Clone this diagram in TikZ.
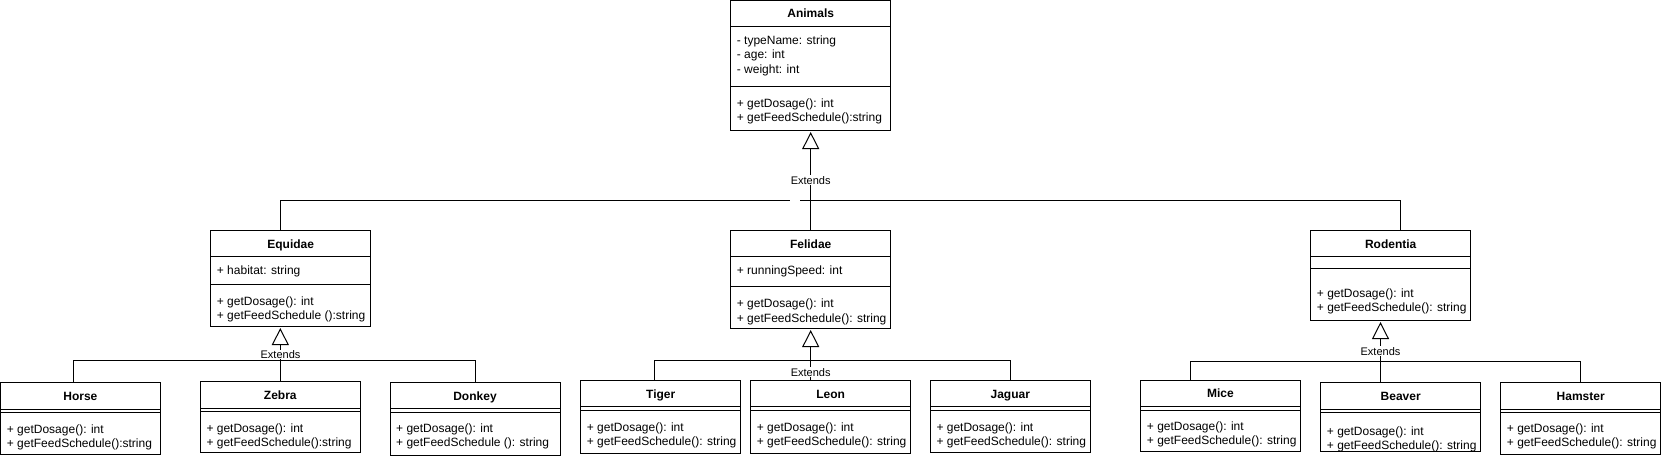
\documentclass[tikz,border=0pt]{standalone}
\usepackage{fontspec}
\setmainfont{Liberation Sans}
\usetikzlibrary{arrows.meta}
\tikzset{
  clsbox/.style={draw, line width=1pt, inner sep=0pt, outer sep=0pt, anchor=north west, fill=white},
  ttl/.style={anchor=base, inner sep=0pt, font=\fontsize{12pt}{14pt}\selectfont\bfseries},
  txt/.style={anchor=base west, inner sep=0pt, font=\fontsize{12pt}{14pt}\selectfont},
  ext/.style={anchor=base, fill=white, inner sep=0.6pt, font=\fontsize{11pt}{13pt}\selectfont},
  conn/.style={line width=1pt},
  inh/.style={line width=1pt, -{Triangle[open,length=17pt,width=17pt]}, shorten >=2pt},
  sepline/.style={line width=1pt}
}
\newcommand\umlcls[6]{%
  \node[clsbox, minimum width=#4pt, minimum height=#5pt] (#1) at (#2,#3) {};
  \node[ttl] (#1-title) at ([yshift=-17.3pt]#1.north) {#6};
}
\newcommand\umlsep[2]{\draw[sepline] ([yshift=-#2pt]#1.north west) -- ([yshift=-#2pt]#1.north east);}
\newcommand\umltxt[4]{\node[txt] (#1-#3) at ([xshift=6pt,yshift=-#2pt]#1.north west) {#4};}
\begin{document}
\begin{tikzpicture}[x=1pt,y=-1pt]
\useasboundingbox (0,0) rectangle (1661,458);

% ---------- Animals ----------
\umlcls{animals}{730.7}{0.5}{160}{129.5}{Animals}
\umlsep{animals}{25.5}\umlsep{animals}{85.5}
\umltxt{animals}{43.8}{a}{- typeName: string}
\umltxt{animals}{58.2}{b}{- age: int}
\umltxt{animals}{72.6}{c}{- weight: int}
\umltxt{animals}{107}{d}{+ getDosage(): int}
\umltxt{animals}{121.2}{e}{+ getFeedSchedule():string}

% ---------- Equidae ----------
\umlcls{equidae}{210.7}{230.7}{160}{95.3}{Equidae}
\umlsep{equidae}{25.3}\umlsep{equidae}{53.6}
\umltxt{equidae}{43.3}{a}{+ habitat: string}
\umltxt{equidae}{74.3}{b}{+ getDosage(): int}
\umltxt{equidae}{88.7}{c}{+ getFeedSchedule ():string}

% ---------- Felidae ----------
\umlcls{felidae}{730.7}{230.7}{160}{97.3}{Felidae}
\umlsep{felidae}{25.3}\umlsep{felidae}{56}
\umltxt{felidae}{43.3}{a}{+ runningSpeed: int}
\umltxt{felidae}{77}{b}{+ getDosage(): int}
\umltxt{felidae}{91.3}{c}{+ getFeedSchedule(): string}

% ---------- Rodentia ----------
\umlcls{rodentia}{1310.7}{230.7}{160}{89.3}{Rodentia}
\umlsep{rodentia}{25.3}\umlsep{rodentia}{37.6}
\umltxt{rodentia}{67.1}{a}{+ getDosage(): int}
\umltxt{rodentia}{80.8}{b}{+ getFeedSchedule(): string}

% ---------- Bottom row ----------
\umlcls{horse}{0.7}{382.7}{159.3}{71.3}{Horse}
\umlsep{horse}{26.6}\umlsep{horse}{30}
\umltxt{horse}{50.6}{a}{+ getDosage(): int}
\umltxt{horse}{64.6}{b}{+ getFeedSchedule():string}

\umlcls{zebra}{200.3}{381.7}{160}{71}{Zebra}
\umlsep{zebra}{26.6}\umlsep{zebra}{30}
\umltxt{zebra}{50.6}{a}{+ getDosage(): int}
\umltxt{zebra}{64.6}{b}{+ getFeedSchedule():string}

\umlcls{donkey}{390}{382.7}{170}{72.3}{Donkey}
\umlsep{donkey}{25.6}\umlsep{donkey}{29.6}
\umltxt{donkey}{50}{a}{+ getDosage(): int}
\umltxt{donkey}{63.8}{b}{+ getFeedSchedule (): string}

\umlcls{tiger}{580.7}{380.7}{160}{72.6}{Tiger}
\umlsep{tiger}{26}\umlsep{tiger}{29.3}
\umltxt{tiger}{50.6}{a}{+ getDosage(): int}
\umltxt{tiger}{64.6}{b}{+ getFeedSchedule(): string}

\umlcls{leon}{750.7}{380.7}{160}{72.6}{Leon}
\umlsep{leon}{26}\umlsep{leon}{29.3}
\umltxt{leon}{50.6}{a}{+ getDosage(): int}
\umltxt{leon}{64.6}{b}{+ getFeedSchedule(): string}

\umlcls{jaguar}{930.3}{380.7}{160}{72}{Jaguar}
\umlsep{jaguar}{26}\umlsep{jaguar}{29.3}
\umltxt{jaguar}{50.6}{a}{+ getDosage(): int}
\umltxt{jaguar}{64.6}{b}{+ getFeedSchedule(): string}

\umlcls{mice}{1140.7}{380.5}{159.3}{71}{Mice}
\umlsep{mice}{26.3}\umlsep{mice}{29.8}
\umltxt{mice}{50}{a}{+ getDosage(): int}
\umltxt{mice}{64}{b}{+ getFeedSchedule(): string}

\umlcls{beaver}{1320.7}{382.7}{160}{69}{Beaver}
\umlsep{beaver}{26.6}\umlsep{beaver}{30}
\umltxt{beaver}{52.5}{a}{+ getDosage(): int}
\umltxt{beaver}{66.5}{b}{+ getFeedSchedule(): string}

\umlcls{hamster}{1500.7}{382.7}{160}{71.3}{Hamster}
\umlsep{hamster}{26.6}\umlsep{hamster}{30}
\umltxt{hamster}{50}{a}{+ getDosage(): int}
\umltxt{hamster}{63.8}{b}{+ getFeedSchedule(): string}

% ---------- Connectors: level 1 ----------
\coordinate (gapL) at (790,200);
\coordinate (gapR) at (800,200);
\draw[inh] (felidae.north) -- (animals.south);
\draw[conn] ([xshift=70pt]equidae.north west) |- (gapL);
\draw[conn] ([xshift=89.3pt]rodentia.north west) |- (gapR);
\node[ext] (extA) at (810.7,184) {Extends};

% ---------- Connectors: Equidae ----------
\draw[inh] (zebra.north) -- (zebra.north |- equidae.south);
\draw[conn] ([xshift=72.6pt]horse.north west) |- ([yshift=22.4pt]donkey.north) -- (donkey.north);
\node[ext] (extE) at (280.5,358.3) {Extends};

% ---------- Connectors: Felidae ----------
\draw[inh] ([xshift=60pt]leon.north west) -- (felidae.south);
\draw[conn] ([xshift=73.6pt]tiger.north west) |- ([yshift=20.4pt]jaguar.north) -- (jaguar.north);
\node[ext] (extF) at (810.7,376) {Extends};

% ---------- Connectors: Rodentia ----------
\draw[inh] ([xshift=59.8pt]beaver.north west) -- ([xshift=69.8pt]rodentia.south west);
\draw[conn] ([xshift=50pt]mice.north west) |- ([yshift=21.5pt]hamster.north) -- (hamster.north);
\node[ext] (extR) at (1380.5,355) {Extends};
\end{tikzpicture}
\end{document}
